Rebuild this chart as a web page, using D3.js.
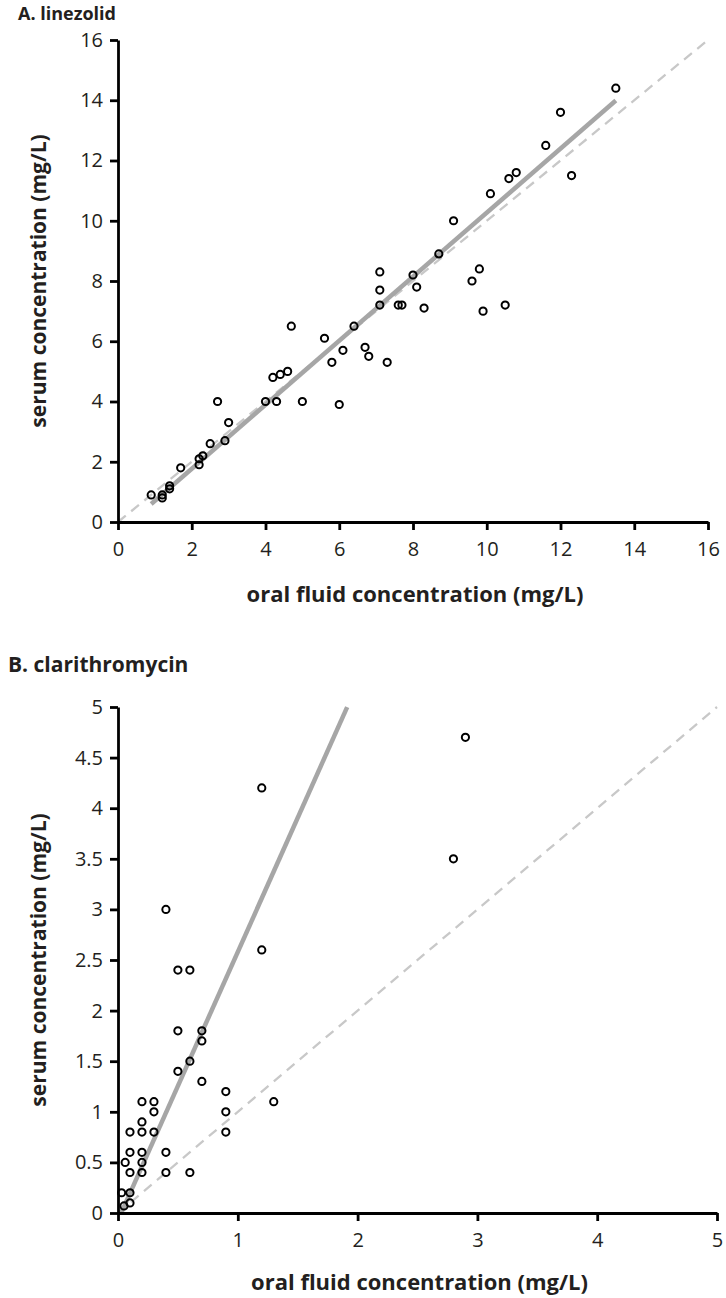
<!DOCTYPE html>
<html>
<head>
<meta charset="utf-8">
<script src="https://cdn.jsdelivr.net/npm/d3@7"></script>
<style>
  body { margin: 0; background: #fff; }
  text { font-family: "Open Sans", "Noto Sans", sans-serif; fill: #231f20; }
</style>
</head>
<body>
<script>
// panel A - linezolid (oral fluid vs serum, mg/L)
const linezolidOral = [0.9, 1.2, 1.2, 1.4, 1.4, 1.7, 2.2, 2.2, 2.3, 2.5, 2.7, 2.9, 3.0, 4.0, 4.3, 4.2, 4.4, 4.6, 4.7, 5.0,
  5.6, 5.8, 6.1, 6.0, 6.4, 6.7, 6.8, 7.3, 7.1, 7.1, 7.1, 7.6, 7.7, 8.0, 8.1, 8.3, 8.7, 9.1, 9.6, 9.8,
  9.9, 10.1, 10.5, 10.6, 10.8, 11.6, 12.0, 12.3, 13.5];
const linezolidSerum = [0.9, 0.9, 0.8, 1.2, 1.1, 1.8, 2.1, 1.9, 2.2, 2.6, 4.0, 2.7, 3.3, 4.0, 4.0, 4.8, 4.9, 5.0, 6.5, 4.0,
  6.1, 5.3, 5.7, 3.9, 6.5, 5.8, 5.5, 5.3, 8.3, 7.7, 7.2, 7.2, 7.2, 8.2, 7.8, 7.1, 8.9, 10.0, 8.0, 8.4,
  7.0, 10.9, 7.2, 11.4, 11.6, 12.5, 13.6, 11.5, 14.4];
const linezolidFit = [1.063, -0.36]; // slope, intercept
const linezolidFitRange = [0.9, 13.5];
const linezolidTicks = [0, 2, 4, 6, 8, 10, 12, 14, 16];

// panel B - clarithromycin
const clarithroOral = [0.03, 0.1, 0.1, 0.05, 0.06, 0.1, 0.2, 0.4, 0.6, 0.1, 0.2, 0.4, 0.2, 0.1, 0.2, 0.3, 0.2, 0.3, 0.2, 0.3,
  0.9, 0.9, 0.9, 1.3, 0.7, 0.5, 0.6, 0.7, 0.5, 0.7, 0.5, 0.6, 1.2, 0.4, 1.2, 2.8, 2.9];
const clarithroSerum = [0.2, 0.2, 0.1, 0.07, 0.5, 0.4, 0.4, 0.4, 0.4, 0.6, 0.6, 0.6, 0.5, 0.8, 0.8, 0.8, 0.9, 1.0, 1.1, 1.1,
  0.8, 1.0, 1.2, 1.1, 1.3, 1.4, 1.5, 1.7, 1.8, 1.8, 2.4, 2.4, 2.6, 3.0, 4.2, 3.5, 4.7];
const clarithroFit = [2.65, -0.07];
const clarithroFitRange = [0.026, 1.913];
const clarithroXTicks = [0, 1, 2, 3, 4, 5];
const clarithroYTicks = [0, 0.5, 1, 1.5, 2, 2.5, 3, 3.5, 4, 4.5, 5];

const w = 726;
const h = 1298;
const svg = d3.select("body").append("svg").attr("width", w).attr("height", h);

const drawPanel = function (opt) {
  const x = d3.scaleLinear().domain(opt.domain[0]).range(opt.xRange);
  const y = d3.scaleLinear().domain(opt.domain[1]).range(opt.yRange);
  const g = svg.append("g");

  // identity line (dashed)
  g.append("line")
    .attr("x1", x(0)).attr("y1", y(0))
    .attr("x2", x(opt.domain[0][1])).attr("y2", y(opt.domain[0][1]))
    .style("stroke", "#c8c8c8")
    .style("stroke-width", 2.3)
    .style("stroke-dasharray", "10,7");

  // regression line
  const fx = opt.fitRange;
  g.append("line")
    .attr("x1", x(fx[0])).attr("y1", y(opt.fit[0] * fx[0] + opt.fit[1]))
    .attr("x2", x(fx[1])).attr("y2", y(opt.fit[0] * fx[1] + opt.fit[1]))
    .style("stroke", "#a6a6a6")
    .style("stroke-width", 4.5);

  // axes
  const fmt = d3.format("~g");
  const xAxis = g.append("g")
    .attr("transform", `translate(0,${opt.yRange[0]})`)
    .call(d3.axisBottom(x).tickValues(opt.xTicks).tickFormat(fmt).tickSize(8).tickSizeOuter(0).tickPadding(12));
  const yAxis = g.append("g")
    .attr("transform", `translate(${opt.xRange[0]},0)`)
    .call(d3.axisLeft(y).tickValues(opt.yTicks).tickFormat(fmt).tickSize(8).tickSizeOuter(0).tickPadding(7));
  [xAxis, yAxis].forEach(function (a) {
    a.select(".domain").style("stroke", "#000").style("stroke-width", 2.8);
    a.selectAll(".tick line").style("stroke", "#000").style("stroke-width", 2.8);
    a.selectAll(".tick text")
      .style("font-size", "20px")
      .style("font-family", "'Open Sans', sans-serif")
      .style("fill", "#231f20");
  });

  // points
  g.selectAll("circle")
    .data(opt.xs)
    .enter()
    .append("circle")
    .attr("cx", function (d) { return x(d); })
    .attr("cy", function (d, i) { return y(opt.ys[i]); })
    .attr("r", 3.6)
    .style("fill", "none")
    .style("stroke", "#000")
    .style("stroke-width", 2);

  // titles
  g.append("text")
    .attr("x", opt.titlePos[0]).attr("y", opt.titlePos[1])
    .style("font-size", opt.titleSize).style("font-weight", "bold")
    .text(opt.title);
  g.append("text")
    .attr("x", (opt.xRange[0] + opt.xRange[1]) / 2 + 2).attr("y", opt.xTitleY)
    .attr("text-anchor", "middle")
    .style("font-size", "22px").style("font-weight", "bold")
    .text("oral fluid concentration (mg/L)");
  g.append("text")
    .attr("transform", `translate(46,${(opt.yRange[0] + opt.yRange[1]) / 2}) rotate(-90)`)
    .attr("text-anchor", "middle")
    .style("font-size", "21px").style("font-weight", "bold")
    .text("serum concentration (mg/L)");
};

drawPanel({
  domain: [[0, 16], [0, 16]],
  xRange: [118, 708],
  yRange: [522, 40],
  xTicks: linezolidTicks,
  yTicks: linezolidTicks,
  xs: linezolidOral,
  ys: linezolidSerum,
  fit: linezolidFit,
  fitRange: linezolidFitRange,
  title: "A. linezolid",
  titleSize: "18px",
  titlePos: [18, 19.5],
  xTitleY: 602
});

drawPanel({
  domain: [[0, 5], [0, 5]],
  xRange: [118, 717],
  yRange: [1213, 707],
  xTicks: clarithroXTicks,
  yTicks: clarithroYTicks,
  xs: clarithroOral,
  ys: clarithroSerum,
  fit: clarithroFit,
  fitRange: clarithroFitRange,
  title: "B. clarithromycin",
  titleSize: "21px",
  titlePos: [8, 672],
  xTitleY: 1290
});
</script>
</body>
</html>
